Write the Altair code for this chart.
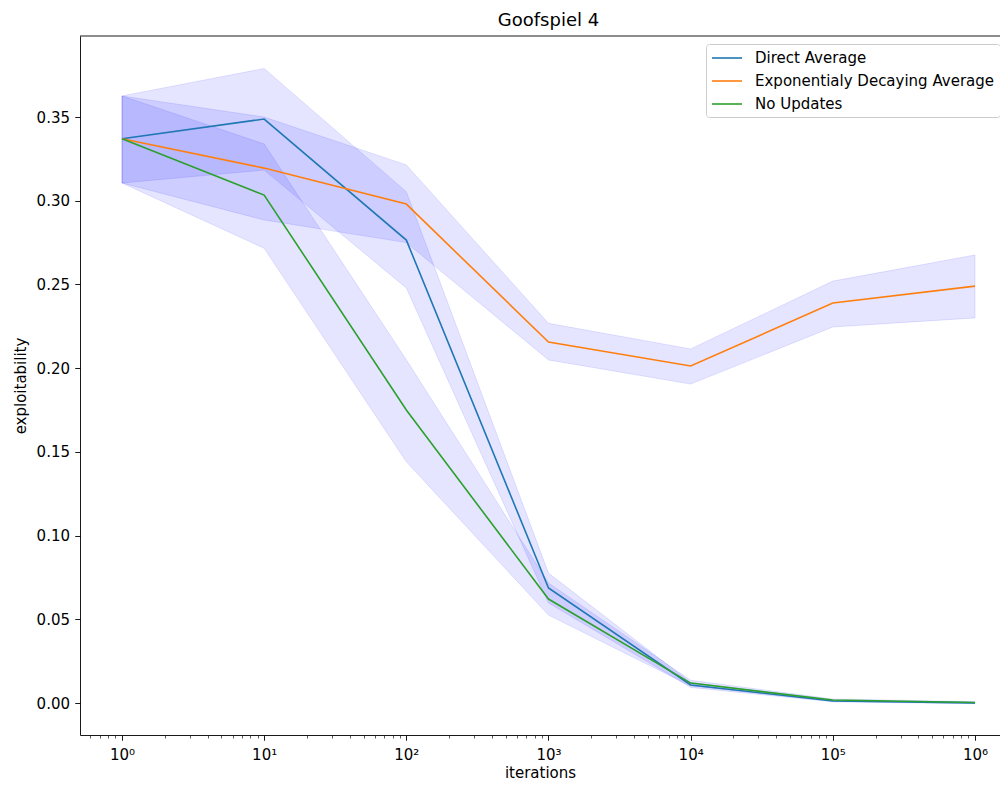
import altair as alt
import pandas as pd

iterations = [1, 10, 100, 1000, 10000, 100000, 1000000]
series_names = ["Direct Average", "Exponentialy Decaying Average", "No Updates"]
colors = ["#1f77b4", "#ff7f0e", "#2ca02c"]

direct_mean = [0.337, 0.3488, 0.2765, 0.0687, 0.0108, 0.0012, 0.0001]
direct_lo = [0.3106, 0.3183, 0.2479, 0.0598, 0.0093, 0.0007, -0.0004]
direct_hi = [0.3626, 0.3790, 0.3054, 0.0776, 0.0123, 0.0017, 0.0006]

expo_mean = [0.337, 0.3195, 0.2980, 0.2156, 0.2013, 0.2389, 0.2490]
expo_lo = [0.3106, 0.2885, 0.2750, 0.2049, 0.1905, 0.2246, 0.2300]
expo_hi = [0.3626, 0.3500, 0.3214, 0.2268, 0.2115, 0.2520, 0.2676]

noupd_mean = [0.337, 0.3034, 0.1750, 0.0621, 0.0119, 0.0018, 0.0003]
noupd_lo = [0.3106, 0.2716, 0.1441, 0.0525, 0.0102, 0.0012, -0.0002]
noupd_hi = [0.3626, 0.3339, 0.2050, 0.0717, 0.0136, 0.0024, 0.0008]

x_major = [1, 10, 100, 1000, 10000, 100000, 1000000]
x_major_labels = ["10⁰", "10¹", "10²", "10³", "10⁴", "10⁵", "10⁶"]
y_ticks = [0.0, 0.05, 0.10, 0.15, 0.20, 0.25, 0.30, 0.35]

x_domain = [10 ** -0.2954, 10 ** 6.176]
x_minor = [k * 10.0 ** d for d in range(-1, 7) for k in range(2, 10)]
x_minor = [v for v in x_minor if x_domain[0] <= v <= x_domain[1]]

rows = []
for name, m, lo, hi in [
    (series_names[0], direct_mean, direct_lo, direct_hi),
    (series_names[1], expo_mean, expo_lo, expo_hi),
    (series_names[2], noupd_mean, noupd_lo, noupd_hi),
]:
    for it, a, b, c in zip(iterations, m, lo, hi):
        rows.append({"iterations": it, "series": name, "mean": a, "lo": b, "hi": c})
df = pd.DataFrame(rows)

FONT = "DejaVu Sans"
FS = 15
W, H = 920, 699

label_expr = "{" + ",".join(f"'{v}':'{l}'" for v, l in zip(x_major, x_major_labels)) + "}"

xscale = alt.Scale(type="log", domain=x_domain, nice=False)
yscale = alt.Scale(domain=[-0.0191, 0.3984], nice=False, zero=False)

y_axis = alt.Axis(values=y_ticks, format=".2f", tickSize=5.25, tickWidth=0.9,
                  tickColor="black", domainColor="black", domainWidth=0.9,
                  grid=False, labelPadding=5.25, labelFont=FONT,
                  labelFontSize=FS, labelColor="black",
                  title="exploitability", titleFont=FONT, titleFontSize=FS,
                  titleFontWeight="normal", titleColor="black",
                  titlePadding=8)

minor_x_axis = alt.Axis(values=x_minor, labels=False, tickSize=3, tickWidth=0.65,
                        tickColor="black", domain=False, grid=False, title=None,
                        orient="bottom")

major_x_axis = alt.Axis(values=x_major, labelExpr=f"{label_expr}[datum.value]",
                        tickSize=5.25, tickWidth=0.9, tickColor="black",
                        domainColor="black", domainWidth=0.9, grid=False,
                        labelPadding=7, labelFont=FONT, labelFontSize=FS,
                        labelColor="black", title="iterations", titleFont=FONT,
                        titleFontSize=FS, titleFontWeight="normal",
                        titleColor="black", titlePadding=3, orient="bottom",
                        labelFlush=False)

base = alt.Chart(df)

minor_axis_layer = base.mark_line(opacity=0).encode(
    x=alt.X("iterations:Q", scale=xscale, axis=minor_x_axis),
    y=alt.Y("mean:Q", scale=yscale, axis=y_axis),
)

bands = base.mark_area(
    color="#0000ff", fillOpacity=0.1, stroke="#0000ff", strokeOpacity=0.1, strokeWidth=1
).encode(
    x=alt.X("iterations:Q", scale=xscale, axis=major_x_axis),
    y=alt.Y("lo:Q", scale=yscale, axis=y_axis),
    y2="hi:Q",
    detail="series:N",
)

lines = base.mark_line(strokeWidth=1.6).encode(
    x=alt.X("iterations:Q", scale=xscale, axis=None),
    y=alt.Y("mean:Q", scale=yscale, axis=y_axis),
    color=alt.Color(
        "series:N",
        scale=alt.Scale(domain=series_names, range=colors),
        legend=alt.Legend(
            title=None, orient="none", legendX=626, legendY=8,
            symbolType="M-1,0H2.75", symbolSize=256, symbolStrokeWidth=1.6,
            labelFont=FONT, labelFontSize=FS, labelColor="black",
            labelLimit=500, labelOffset=26, rowPadding=6, padding=5,
            strokeColor="#cccccc", fillColor="rgba(255,255,255,0.8)",
            cornerRadius=3,
        ),
    ),
    order=alt.Order("iterations:Q"),
)

top_spine = alt.Chart(pd.DataFrame({"a": [0]})).mark_rule(
    color="black", strokeWidth=0.9
).encode(x=alt.value(0), x2=alt.value(W), y=alt.value(0))

chart = (
    alt.layer(minor_axis_layer, bands, lines, top_spine)
    .resolve_axis(x="independent")
    .properties(
        width=W,
        height=H,
        title=alt.TitleParams("Goofspiel 4", font=FONT, fontSize=18,
                              fontWeight="normal", color="black", offset=6,
                              dx=8.5),
        autosize=alt.AutoSizeParams(type="none"),
        padding={"left": 72, "top": 28, "right": 0, "bottom": 46},
    )
    .configure_view(strokeWidth=0)
)

chart.save("out.html", embed_options={"renderer": "svg", "actions": False})
